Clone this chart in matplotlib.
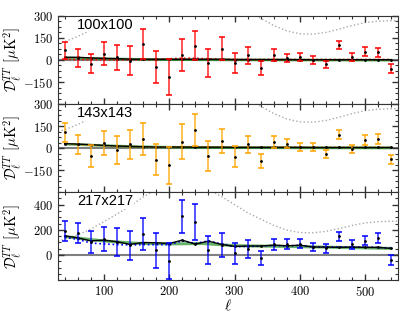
import numpy as np
import matplotlib
matplotlib.use("Agg")
import matplotlib.pyplot as plt
from matplotlib.ticker import MultipleLocator

plt.rcParams['mathtext.fontset'] = 'cm'
plt.rcParams['font.family'] = 'serif'
plt.rcParams['font.serif'] = ['cmr10', 'DejaVu Serif']
plt.rcParams['axes.formatter.use_mathtext'] = True

ell = np.arange(40, 541, 20)

# data points (D_ell residuals) and errors
d100 = [66, 14, -25, 43, 18, -5, 107, -48, -113, 32, 98, -20, 77,
        -20, 32, -54, 32, 14, 20, 0, -30, 104, 20, 57, 52, -59]
e100 = [58, 62, 67, 78, 85, 97, 102, 110, 123, 109, 101, 95, 77,
        68, 57, 45, 40, 30, 29, 25, 25, 27, 30, 32, 33, 30]
d143 = [109, 25, -54, 36, -11, 25, 64, -79, -116, 43, 120, -54, 48,
        -59, 25, -89, 39, 30, 7, 7, -39, 91, -7, 52, 64, -77]
e143 = [65, 65, 77, 83, 95, 100, 110, 108, 126, 118, 109, 100, 85,
        72, 59, 47, 40, 32, 30, 28, 28, 30, 30, 34, 34, 33]
d217 = [190, 175, 105, 125, 105, 78, 165, 37, -50, 306, 264, 39, 78,
        13, 47, -26, 84, 86, 91, 65, 52, 149, 84, 115, 136, -42]
e217 = [80, 78, 86, 94, 110, 115, 127, 137, 143, 131, 143, 112, 97,
        82, 69, 56, 46, 40, 37, 31, 34, 35, 35, 37, 39, 40]

# binned foreground model (black line)
m100 = [18, 18, 14, 11, 9, 6, 5, 5, 5, 5, 5, 5, 5,
        3, 3, 3, 3, 3, 2, 2, 2, 2, 2, 2, 2, 2]
m143 = [30, 27, 23, 18, 14, 11, 9, 7, 7, 7, 6, 6, 6,
        5, 5, 5, 5, 5, 5, 4, 4, 4, 4, 4, 4, 4]
m217 = [152, 136, 112, 118, 105, 84, 99, 97, 91, 118, 86, 110, 84,
        68, 71, 71, 78, 73, 78, 63, 63, 60, 63, 60, 60, 52]

# alternative model (coloured dotted line)
a100 = [4, 3, 2, 2, 2, 1, 2, 3, 8, 12, 12, 8, 4,
        3, 3, 3, 3, 3, 3, 3, 3, 3, 3, 3, 3, 3]
a143 = [28, 25, 20, 16, 12, 10, 8, 7, 8, 10, 9, 8, 7,
        6, 6, 6, 6, 6, 6, 5, 5, 5, 5, 5, 5, 5]
a217 = [140, 125, 95, 88, 82, 80, 82, 82, 82, 112, 92, 112, 86,
        66, 68, 70, 76, 72, 76, 64, 62, 64, 62, 62, 60, 54]

# smooth foreground model band (green)
ell_band = [40, 60, 100, 150, 200, 250, 300, 400, 540]
b100 = [18, 16, 12, 8, 6, 5, 4, 3, 2]
b143 = [30, 27, 20, 13, 9, 7, 6, 5, 4]
b217 = [150, 138, 115, 97, 92, 95, 78, 70, 56]

# 0.1 x CMB spectrum (grey dotted)
ell_cmb = [30, 40, 60, 80, 100, 120, 140, 160, 180, 200, 220, 240, 260, 280,
           300, 320, 340, 360, 380, 400, 420, 440, 460, 480, 500, 520, 540, 550]
cmb = [110, 125, 160, 205, 265, 325, 390, 460, 520, 560, 575, 560, 520, 465,
       400, 335, 285, 235, 198, 178, 176, 188, 210, 235, 255, 265, 268, 268]

labels = ['100x100', '143x143', '217x217']
colors = ['red', 'orange', 'blue']

fig, axes = plt.subplots(3, 1, figsize=(4.15, 3.13), dpi=100, sharex=True)
fig.subplots_adjust(left=0.14, right=0.959, top=0.949, bottom=0.105, hspace=0)

panels = [(d100, e100, m100, a100, b100), (d143, e143, m143, a143, b143),
          (d217, e217, m217, a217, b217)]

for i, ax in enumerate(axes):
    d, e, m, a, b = panels[i]
    bw = 12 if i == 2 else 9
    ax.axhline(0, color='gray', lw=1.5, zorder=1)
    ax.plot(ell_cmb, cmb, ':', color='#aaaaaa', lw=1, zorder=1)
    ax.fill_between(ell_band, np.array(b) - bw, np.array(b) + bw,
                    color='green', alpha=0.6, lw=0, zorder=2)
    ax.plot(ell, a, ':', color=colors[i], lw=1.2, zorder=3)
    ax.plot(ell, m, '-', color='black', lw=1, marker='.', ms=2, zorder=4)
    ax.errorbar(ell, d, yerr=e, fmt='none', ecolor=colors[i], elinewidth=1.1,
                capsize=2.2, capthick=1.3, alpha=0.85, zorder=5)
    ax.plot(ell, d, 'k.', ms=2, zorder=6)
    ax.text(0.055, 0.9, labels[i], transform=ax.transAxes, fontsize=10.5,
            family='Liberation Sans', va='center', ha='left', zorder=7,
            bbox=dict(facecolor='white', edgecolor='none', pad=0.5))
    ax.set_xlim(30, 550)
    if i < 2:
        ax.set_ylim(-300, 300)
        ax.set_yticks([-150, 0, 150, 300])
        ax.yaxis.set_minor_locator(MultipleLocator(37.5))
    else:
        ax.set_ylim(-200, 500)
        ax.set_yticks([0, 200, 400])
        ax.yaxis.set_minor_locator(MultipleLocator(50))
    ax.xaxis.set_major_locator(MultipleLocator(100))
    ax.xaxis.set_minor_locator(MultipleLocator(20))
    ax.tick_params(which='both', direction='in', top=True, right=True,
                   labelsize=9, color='#333333')
    ax.tick_params(which='major', length=4, width=1)
    ax.tick_params(which='minor', length=2, width=0.8)
    for s in ax.spines.values():
        s.set_color('#333333')
    ax.set_ylabel(r'$\mathcal{D}_\ell^{TT}$ $[\mu{\rm K}^2]$', fontsize=10.5)
    ax.yaxis.set_label_coords(-0.1, 0.5)

axes[2].set_xlabel(r'$\ell$', fontsize=11, labelpad=-1)

fig.savefig('out.png', dpi=100)
